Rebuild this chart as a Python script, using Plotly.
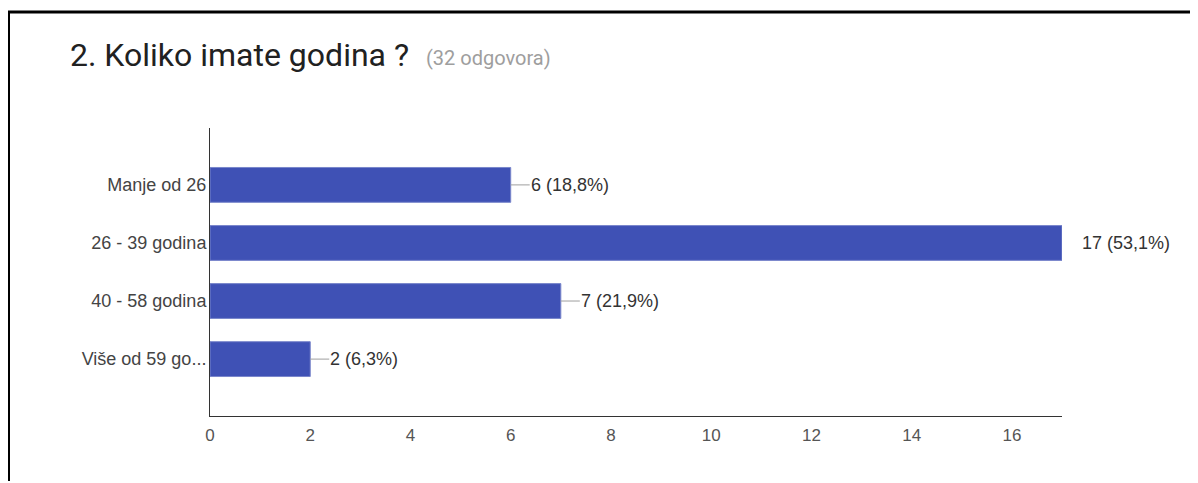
import plotly.graph_objects as go

categories = ["Manje od 26", "26 - 39 godina", "40 - 58 godina", "Više od 59 go..."]
counts = [6, 17, 7, 2]
percent_labels = ["18,8%", "53,1%", "21,9%", "6,3%"]
x_tick_values = [0, 2, 4, 6, 8, 10, 12, 14, 16]
title_text = "2. Koliko imate godina ?"
subtitle_text = "(32 odgovora)"

# page has an 8px body margin: work in page pixels, convert to figure pixels
OFF = 8
W, H = 1198 - OFF, 483 - OFF
L, R, T, B = 210 - OFF, 1062 - OFF, 128 - OFF, 416 - OFF
X_MAX = 17


def px(x):
    return (x - OFF - L) / (R - L)


def py(y):
    return (B - (y - OFF)) / (B - T)


fig = go.Figure()
fig.add_trace(go.Bar(
    x=counts,
    y=categories,
    orientation="h",
    width=0.6,
    marker=dict(color="#3f51b5", line=dict(color="#7986cb", width=1)),
    hoverinfo="skip",
))

annotations = []
for cat, v, p in zip(categories, counts, percent_labels):
    annotations.append(dict(
        x=v, y=cat, xref="x", yref="y",
        text=f"{v} ({p})",
        showarrow=True, arrowhead=0, arrowwidth=1,
        arrowcolor="#9e9e9e" if v < X_MAX else "rgba(0,0,0,0)",
        ax=19, ay=0, axref="pixel", ayref="pixel",
        xanchor="left", yanchor="middle",
        font=dict(family="Arial, Liberation Sans", size=18, color="#333333"),
        borderpad=0,
    ))

annotations.append(dict(
    x=px(68), y=py(55), xref="paper", yref="paper",
    text=title_text, showarrow=False, xanchor="left", yanchor="middle",
    font=dict(family="Roboto", size=32, color="#212121"),
))
annotations.append(dict(
    x=px(424), y=py(58), xref="paper", yref="paper",
    text=subtitle_text, showarrow=False, xanchor="left", yanchor="middle",
    font=dict(family="Roboto", size=20, color="#9e9e9e"),
))

shapes = [
    dict(type="line", xref="paper", yref="paper",
         x0=px(OFF), x1=px(1198), y0=py(12), y1=py(12),
         line=dict(color="black", width=3)),
    dict(type="line", xref="paper", yref="paper",
         x0=px(OFF + 0.5), x1=px(OFF + 0.5), y0=py(12), y1=py(481),
         line=dict(color="black", width=3)),
]

fig.update_layout(
    width=W, height=H,
    margin=dict(l=L, r=W - R, t=T, b=H - B, pad=0),
    paper_bgcolor="white", plot_bgcolor="white",
    showlegend=False,
    annotations=annotations,
    shapes=shapes,
    xaxis=dict(
        range=[0, X_MAX], tickvals=x_tick_values,
        showgrid=False, zeroline=False, showline=True,
        linecolor="#333333", linewidth=1, ticks="",
        ticklabelstandoff=4,
        tickfont=dict(family="Liberation Sans Narrow, Arial", size=17, color="#555555"),
    ),
    yaxis=dict(
        type="category", categoryorder="array", categoryarray=categories,
        range=[3.98, -0.98],
        showgrid=False, zeroline=False, showline=True,
        linecolor="#333333", linewidth=1, ticks="",
        ticklabelstandoff=-1,
        tickfont=dict(family="Arial, Liberation Sans", size=18, color="#444444"),
    ),
)

fig.write_html("out.html")
